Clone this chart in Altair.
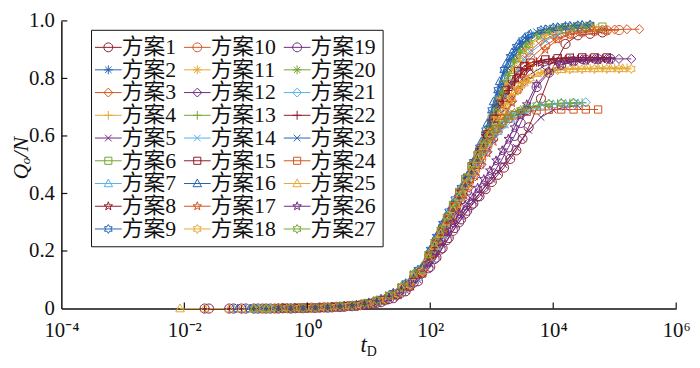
import math
import altair as alt
import pandas as pd

_ = None

# log10(t_D) sampling grids (three staggered grids)
LOGT_A = [-2.0, -1.6, -1.2, -1.0, -0.8, -0.6, -0.4, -0.2, 0.0, 0.2, 0.4, 0.6, 0.8,
          1.0, 1.2, 1.4, 1.6, 1.8,
          2.0, 2.1, 2.2, 2.3, 2.4, 2.5, 2.6, 2.7, 2.8, 2.9, 3.0, 3.1, 3.2, 3.3, 3.4, 3.5, 3.6,
          3.8, 4.0, 4.2, 4.4, 4.6, 4.8, 5.0, 5.2, 5.4]
LOGT_B = [-1.93, -1.53, -1.13, -0.93, -0.73, -0.53, -0.33, -0.13, 0.07, 0.27, 0.47, 0.67, 0.87,
          1.07, 1.27, 1.47, 1.67, 1.87,
          2.03, 2.13, 2.23, 2.33, 2.43, 2.53, 2.63, 2.73, 2.83, 2.93, 3.03, 3.13, 3.23, 3.33, 3.43,
          3.53, 3.63,
          3.87, 4.07, 4.27, 4.47, 4.67, 4.87, 5.07, 5.27, 5.47]
LOGT_C = [-2.07, -1.67, -1.27, -1.07, -0.87, -0.67, -0.47, -0.27, -0.07, 0.13, 0.33, 0.53, 0.73,
          0.93, 1.13, 1.33, 1.53, 1.73,
          1.97, 2.07, 2.17, 2.27, 2.37, 2.47, 2.57, 2.67, 2.77, 2.87, 2.97, 3.07, 3.17, 3.27, 3.37,
          3.47, 3.57,
          3.73, 3.93, 4.13, 4.33, 4.53, 4.73, 4.93, 5.13, 5.33]

# Q_o/N values per scheme (segments: early | 10..60 | rise | plateau)
S01 = [_, 0, 0, 0, 0, 0, 0.001, 0.001, 0.002, 0.003, 0.004, 0.006, 0.009] + [0.014, 0.022, 0.036, 0.06, 0.095] + [0.145, 0.177, 0.21, 0.245, 0.28, 0.31, 0.34, 0.365, 0.39, 0.415, 0.44, 0.465, 0.49, 0.52, 0.55, 0.59, 0.63] + [0.73, 0.84, 0.92, 0.95, 0.955, 0.96, _, _, _]
S02 = [_, _, _, _, 0, 0, 0.001, 0.002, 0.003, 0.004, 0.006, 0.009, 0.013] + [0.02, 0.032, 0.052, 0.085, 0.13] + [0.2, 0.245, 0.29, 0.33, 0.37, 0.41, 0.45, 0.5, 0.55, 0.61, 0.68, 0.75, 0.82, 0.865, 0.9, 0.922, 0.94] + [0.96, 0.972, 0.978, 0.982, 0.985, _, _, _, _]
S03 = [_, _, _, _, _, _, 0.001, 0.001, 0.002, 0.003, 0.005, 0.008, 0.011] + [0.017, 0.027, 0.044, 0.072, 0.115] + [0.18, 0.22, 0.26, 0.30, 0.34, 0.385, 0.43, 0.475, 0.52, 0.57, 0.62, 0.675, 0.73, 0.78, 0.83, 0.865, 0.89] + [0.93, 0.95, 0.96, 0.965, 0.968, 0.97, 0.97, 0.971, 0.971]
S04 = [_, _, 0, 0, 0, 0, 0.001, 0.001, 0.002, 0.003, 0.005, 0.008, 0.011] + [0.017, 0.028, 0.046, 0.075, 0.12] + [0.185, 0.228, 0.27, 0.31, 0.35, 0.395, 0.44, 0.485, 0.53, 0.575, 0.62, 0.662, 0.7, 0.732, 0.76, 0.782, 0.8] + [0.82, 0.83, 0.833, 0.835, 0.835, 0.836, 0.836, 0.836, _]
S05 = [_, _, _, _, _, _, 0, 0.001, 0.002, 0.003, 0.004, 0.006, 0.009] + [0.014, 0.023, 0.038, 0.063, 0.1] + [0.155, 0.19, 0.225, 0.258, 0.29, 0.32, 0.35, 0.375, 0.4, 0.425, 0.45, 0.475, 0.5, 0.53, 0.56, 0.59, 0.62] + [0.665, 0.69, 0.7, 0.705, _, _, _, _, _]
S06 = [_, _, _, _, 0, 0, 0.001, 0.002, 0.003, 0.004, 0.006, 0.009, 0.012] + [0.019, 0.03, 0.05, 0.08, 0.125] + [0.19, 0.235, 0.28, 0.32, 0.36, 0.405, 0.45, 0.5, 0.55, 0.605, 0.66, 0.72, 0.78, 0.83, 0.87, 0.9, 0.92] + [0.95, 0.965, 0.972, 0.976, 0.978, 0.98, _, _, _]
S07 = [_, _, 0, 0, 0, 0, 0.001, 0.001, 0.002, 0.003, 0.005, 0.007, 0.01] + [0.016, 0.026, 0.043, 0.07, 0.11] + [0.175, 0.218, 0.26, 0.305, 0.35, 0.395, 0.44, 0.48, 0.52, 0.556, 0.59, 0.617, 0.64, 0.66, 0.675, 0.686, 0.695] + [0.705, 0.71, 0.712, 0.713, _, _, _, _, _]
S08 = [_, _, _, _, _, _, 0.001, 0.001, 0.002, 0.003, 0.005, 0.008, 0.011] + [0.018, 0.029, 0.048, 0.078, 0.125] + [0.19, 0.235, 0.28, 0.32, 0.36, 0.405, 0.45, 0.5, 0.55, 0.6, 0.65, 0.7, 0.74, 0.773, 0.8, 0.822, 0.84] + [0.855, 0.862, 0.865, 0.866, 0.867, 0.867, _, _, _]
S09 = [_, _, _, _, _, _, 0.001, 0.002, 0.003, 0.004, 0.006, 0.009, 0.013] + [0.021, 0.034, 0.055, 0.088, 0.135] + [0.205, 0.25, 0.295, 0.338, 0.38, 0.42, 0.46, 0.51, 0.56, 0.62, 0.69, 0.76, 0.83, 0.875, 0.91, 0.933, 0.95] + [0.968, 0.977, 0.982, 0.985, 0.987, _, _, _, _]
S10 = [_, _, _, _, 0, 0, 0.001, 0.002, 0.003, 0.004, 0.006, 0.009, 0.013] + [0.02, 0.032, 0.052, 0.083, 0.13] + [0.2, 0.243, 0.285, 0.322, 0.36, 0.4, 0.44, 0.48, 0.52, 0.565, 0.61, 0.66, 0.71, 0.755, 0.8, 0.838, 0.87] + [0.915, 0.94, 0.955, 0.962, 0.965, 0.967, 0.968, _, _]
S11 = [_, _, _, _, _, _, 0.001, 0.002, 0.003, 0.004, 0.006, 0.009, 0.013] + [0.021, 0.033, 0.054, 0.087, 0.135] + [0.205, 0.248, 0.29, 0.33, 0.37, 0.415, 0.46, 0.51, 0.56, 0.615, 0.67, 0.725, 0.78, 0.83, 0.87, 0.9, 0.92] + [0.95, 0.965, 0.972, 0.976, 0.978, _, _, _, _]
S12 = [_, _, _, _, 0, 0, 0.001, 0.001, 0.002, 0.003, 0.005, 0.008, 0.011] + [0.018, 0.028, 0.046, 0.075, 0.12] + [0.185, 0.225, 0.265, 0.302, 0.34, 0.38, 0.42, 0.46, 0.5, 0.545, 0.59, 0.635, 0.68, 0.722, 0.76, 0.79, 0.815] + [0.845, 0.858, 0.864, 0.866, 0.867, 0.868, 0.868, 0.868, _]
S13 = [_, _, _, _, _, _, 0.001, 0.001, 0.002, 0.003, 0.005, 0.008, 0.012] + [0.019, 0.03, 0.049, 0.08, 0.125] + [0.195, 0.238, 0.28, 0.325, 0.37, 0.415, 0.46, 0.5, 0.54, 0.578, 0.61, 0.635, 0.655, 0.672, 0.685, 0.694, 0.7] + [0.708, 0.712, 0.714, 0.715, _, _, _, _, _]
S14 = [_, _, _, _, 0, 0, 0.001, 0.002, 0.003, 0.004, 0.006, 0.009, 0.013] + [0.02, 0.032, 0.052, 0.085, 0.13] + [0.2, 0.245, 0.29, 0.33, 0.37, 0.41, 0.45, 0.495, 0.54, 0.59, 0.64, 0.69, 0.74, 0.79, 0.83, 0.865, 0.89] + [0.93, 0.952, 0.963, 0.968, _, _, _, _, _]
S15 = [_, _, _, _, _, _, 0.001, 0.001, 0.002, 0.003, 0.005, 0.008, 0.011] + [0.018, 0.029, 0.047, 0.077, 0.122] + [0.19, 0.232, 0.275, 0.318, 0.36, 0.405, 0.45, 0.5, 0.55, 0.605, 0.66, 0.712, 0.76, 0.797, 0.825, 0.843, 0.855] + [0.866, 0.87, 0.872, 0.873, 0.873, 0.873, _, _, _]
S16 = [_, _, 0, 0, 0, 0, 0.001, 0.002, 0.003, 0.004, 0.006, 0.01, 0.014] + [0.022, 0.035, 0.057, 0.09, 0.14] + [0.215, 0.26, 0.305, 0.345, 0.385, 0.425, 0.47, 0.52, 0.58, 0.645, 0.72, 0.79, 0.85, 0.89, 0.92, 0.94, 0.955] + [0.97, 0.978, 0.983, 0.986, _, _, _, _, _]
S17 = [_, _, _, _, _, _, 0.001, 0.002, 0.003, 0.004, 0.006, 0.009, 0.012] + [0.019, 0.03, 0.049, 0.079, 0.125] + [0.19, 0.23, 0.27, 0.308, 0.345, 0.382, 0.42, 0.46, 0.5, 0.54, 0.58, 0.625, 0.67, 0.715, 0.76, 0.8, 0.84] + [0.9, 0.935, 0.952, 0.96, 0.964, 0.966, _, _, _]
S18 = [_, _, _, _, 0, 0, 0.001, 0.002, 0.003, 0.004, 0.006, 0.009, 0.012] + [0.019, 0.031, 0.05, 0.081, 0.128] + [0.195, 0.238, 0.28, 0.32, 0.36, 0.4, 0.44, 0.485, 0.53, 0.575, 0.62, 0.662, 0.7, 0.732, 0.76, 0.782, 0.8] + [0.82, 0.828, 0.831, 0.832, 0.833, 0.833, 0.833, 0.833, _]
S19 = [_, 0, 0, 0, 0, 0, 0, 0, 0.001, 0.002, 0.003, 0.005, 0.008] + [0.012, 0.02, 0.033, 0.055, 0.09] + [0.14, 0.172, 0.205, 0.238, 0.27, 0.3, 0.33, 0.36, 0.39, 0.42, 0.45, 0.485, 0.52, 0.56, 0.6, 0.645, 0.69] + [0.77, 0.82, 0.848, 0.86, 0.865, 0.867, 0.868, _, _]
S20 = [_, _, _, _, 0, 0, 0.001, 0.001, 0.002, 0.003, 0.005, 0.007, 0.01] + [0.016, 0.026, 0.043, 0.07, 0.112] + [0.175, 0.215, 0.255, 0.298, 0.34, 0.385, 0.43, 0.475, 0.52, 0.575, 0.63, 0.69, 0.75, 0.81, 0.86, 0.895, 0.92] + [0.952, 0.968, 0.976, 0.98, 0.982, _, _, _, _]
S21 = [_, _, _, _, 0, 0, 0.001, 0.001, 0.002, 0.003, 0.004, 0.007, 0.01] + [0.016, 0.025, 0.041, 0.067, 0.107] + [0.168, 0.208, 0.25, 0.295, 0.34, 0.385, 0.43, 0.47, 0.51, 0.547, 0.58, 0.61, 0.635, 0.655, 0.67, 0.682, 0.692] + [0.704, 0.71, 0.714, 0.716, 0.717, _, _, _, _]
S22 = [_, 0, 0, 0, 0, 0, 0.001, 0.001, 0.002, 0.003, 0.004, 0.007, 0.01] + [0.016, 0.026, 0.042, 0.069, 0.11] + [0.172, 0.212, 0.255, 0.298, 0.34, 0.385, 0.43, 0.475, 0.52, 0.57, 0.62, 0.672, 0.72, 0.758, 0.79, 0.815, 0.835] + [0.857, 0.866, 0.87, 0.871, 0.872, 0.872, 0.872, _, _]
S23 = [_, _, _, _, 0, 0, 0.001, 0.001, 0.002, 0.003, 0.005, 0.008, 0.011] + [0.018, 0.029, 0.047, 0.076, 0.12] + [0.185, 0.228, 0.27, 0.31, 0.35, 0.39, 0.43, 0.472, 0.52, 0.575, 0.64, 0.71, 0.78, 0.835, 0.88, 0.912, 0.935] + [0.962, 0.975, 0.981, 0.985, 0.987, _, _, _, _]
S24 = [_, _, _, _, _, _, 0.001, 0.001, 0.002, 0.003, 0.005, 0.007, 0.01] + [0.017, 0.027, 0.044, 0.072, 0.115] + [0.18, 0.222, 0.265, 0.31, 0.355, 0.402, 0.45, 0.495, 0.535, 0.57, 0.6, 0.625, 0.645, 0.66, 0.672, 0.679, 0.684] + [0.689, 0.691, 0.692, 0.692, 0.692, 0.692, _, _, _]
S25 = [0, 0, 0, 0, 0, 0, 0.001, 0.001, 0.002, 0.003, 0.005, 0.007, 0.01] + [0.016, 0.026, 0.043, 0.07, 0.112] + [0.175, 0.218, 0.26, 0.302, 0.345, 0.388, 0.43, 0.475, 0.52, 0.565, 0.61, 0.652, 0.69, 0.725, 0.755, 0.778, 0.795] + [0.818, 0.828, 0.832, 0.834, 0.835, 0.835, 0.835, 0.835, _]
S26 = [_, _, _, _, _, _, 0.001, 0.001, 0.002, 0.003, 0.004, 0.006, 0.009] + [0.014, 0.023, 0.038, 0.063, 0.1] + [0.158, 0.195, 0.23, 0.265, 0.3, 0.33, 0.36, 0.39, 0.42, 0.45, 0.48, 0.515, 0.55, 0.59, 0.63, 0.67, 0.71] + [0.78, 0.825, 0.848, 0.858, 0.862, 0.864, 0.865, _, _]
S27 = [_, _, _, _, 0, 0, 0.001, 0.001, 0.002, 0.003, 0.005, 0.008, 0.011] + [0.018, 0.029, 0.047, 0.077, 0.122] + [0.19, 0.232, 0.275, 0.32, 0.365, 0.41, 0.455, 0.497, 0.535, 0.57, 0.6, 0.626, 0.648, 0.666, 0.68, 0.69, 0.698] + [0.707, 0.712, 0.714, 0.715, _, _, _, _, _]

SERIES = [S01, S02, S03, S04, S05, S06, S07, S08, S09, S10, S11, S12, S13, S14,
          S15, S16, S17, S18, S19, S20, S21, S22, S23, S24, S25, S26, S27]
GRIDS = [LOGT_A] * 9 + [LOGT_B] * 9 + [LOGT_C] * 9
NAMES = [f"方案{i}" for i in range(1, 28)]

X_TICKS = [1e-2, 1, 1e2, 1e4, 1e6]
X_LABEL_VALUES = [1e-4, 1e-2, 1, 1e2, 1e4, 1e6]
Y_TICKS = [0.2, 0.4, 0.6, 0.8, 1.0]
Y_LABEL_VALUES = [0, 0.2, 0.4, 0.6, 0.8, 1.0]

# ---- styling ----
W, H = 622, 291
TOP = 11
CYCLE = ["#8E1A26", "#2462B4", "#D4541C", "#E6A836", "#6E2A80", "#74A532", "#58B0EC"]
COLORS = [CYCLE[i % 7] for i in range(27)]


def circle_pts(n=20):
    return [(math.cos(2 * math.pi * k / n), math.sin(2 * math.pi * k / n)) for k in range(n)]


def star_pts(npts, r_in):
    pts = []
    for k in range(2 * npts):
        ang = -math.pi / 2 + k * math.pi / npts
        r = 1.0 if k % 2 == 0 else r_in
        pts.append((r * math.cos(ang), r * math.sin(ang)))
    return pts


MARKERS = [
    [(circle_pts(), True)],
    [([(-1, 0), (1, 0)], False), ([(0, -1), (0, 1)], False),
     ([(-0.72, -0.72), (0.72, 0.72)], False), ([(-0.72, 0.72), (0.72, -0.72)], False)],
    [([(0, -1), (1, 0), (0, 1), (-1, 0)], True)],
    [([(-1, 0), (1, 0)], False), ([(0, -1), (0, 1)], False)],
    [([(-0.75, -0.75), (0.75, 0.75)], False), ([(-0.75, 0.75), (0.75, -0.75)], False)],
    [([(-0.8, -0.8), (0.8, -0.8), (0.8, 0.8), (-0.8, 0.8)], True)],
    [([(0, -1), (0.95, 0.72), (-0.95, 0.72)], True)],
    [(star_pts(5, 0.4), True)],
    [(star_pts(6, 0.577), True)],
]


def to_path(polys, k=1.0):
    out = []
    for pts, closed in polys:
        seg = "M" + "L".join(f"{x * k:.3f},{y * k:.3f}" for x, y in pts)
        if closed:
            seg += "Z"
        out.append(seg)
    return "".join(out)


# legend symbol box is 22 px; marker ~9 px wide, line ~27 px long
LEG_SYM = 22
PATHS = [to_path(MARKERS[i % 9]) for i in range(27)]
LEG_PATHS = [to_path(MARKERS[i % 9], 9 / LEG_SYM) + f"M{-27 / LEG_SYM:.3f},0L{27 / LEG_SYM:.3f},0"
             for i in range(27)]

rows = []
for name, vals, grid in zip(NAMES, SERIES, GRIDS):
    assert len(vals) == len(grid), name
    for lt, q in zip(grid, vals):
        if q is not None:
            rows.append({"series": name, "t": 10 ** lt, "q": q})
df = pd.DataFrame(rows)

SERIF = "Liberation Serif"
INK = "#111111"
x_scale = alt.Scale(type="log", domain=[1e-4, 1e6], nice=False)
y_scale = alt.Scale(domain=[0, 1], nice=False, zero=False)
x_axis = alt.Axis(values=X_LABEL_VALUES, ticks=False, grid=False, title=None,
                  labelExpr=("datum.value < 0.001 ? '10⁻⁴' : datum.value < 0.1 ? '10⁻²' : "
                             "datum.value < 10 ? '10⁰' : datum.value < 1000 ? '10²' : "
                             "datum.value < 100000 ? '10⁴' : '10⁶'"),
                  labelFont=SERIF, labelFontSize=21, labelColor=INK, labelPadding=11,
                  domainColor=INK, domainWidth=1.5, labelFlush=False, labelOverlap=False)
y_axis = alt.Axis(values=Y_LABEL_VALUES, ticks=False, grid=False, title=None,
                  labelExpr="datum.value == 0 ? '0' : format(datum.value, '.1f')",
                  labelFont=SERIF, labelFontSize=21, labelColor=INK, labelPadding=7,
                  domainColor=INK, domainWidth=1.5, labelFlush=False, labelOverlap=False)

X = alt.X("t:Q", scale=x_scale, axis=x_axis)
Y = alt.Y("q:Q", scale=y_scale, axis=y_axis)

lines = alt.Chart(df).mark_line(strokeWidth=1).encode(
    x=X, y=Y,
    color=alt.Color("series:N", scale=alt.Scale(domain=NAMES, range=COLORS), legend=None),
)
points = alt.Chart(df).mark_point(filled=False, size=85, strokeWidth=1, opacity=1).encode(
    x=X, y=Y,
    color=alt.Color("series:N", scale=alt.Scale(domain=NAMES, range=COLORS), legend=None),
    shape=alt.Shape("series:N", scale=alt.Scale(domain=NAMES, range=PATHS), legend=None),
)

LEG = alt.Legend(title=None, orient="none", legendX=30, legendY=9, columns=3,
                 labelFont=f"{SERIF}, Noto Sans CJK SC", labelFontSize=22, labelColor=INK,
                 symbolSize=LEG_SYM * LEG_SYM, symbolStrokeWidth=1, padding=6, strokeColor=INK,
                 fillColor="white", columnPadding=5, rowPadding=0, labelOffset=2,
                 symbolLimit=40, labelLimit=200)
legend_layer = alt.Chart(df).transform_filter("false").mark_point(
    filled=False, size=LEG_SYM * LEG_SYM, strokeWidth=1, opacity=1).encode(
    x=X, y=Y,
    color=alt.Color("series:N", scale=alt.Scale(domain=NAMES, range=COLORS), legend=LEG),
    shape=alt.Shape("series:N", scale=alt.Scale(domain=NAMES, range=LEG_PATHS), legend=LEG),
)

xticks = alt.Chart(alt.Data(values=[{"t": v} for v in X_TICKS])).mark_rule(
    color=INK, strokeWidth=1.2).encode(x=alt.X("t:Q", scale=x_scale, axis=x_axis),
                                     y=alt.value(H), y2=alt.value(H - 6))
yticks = alt.Chart(alt.Data(values=[{"q": v} for v in Y_TICKS])).mark_rule(
    color=INK, strokeWidth=1.2).encode(y=alt.Y("q:Q", scale=y_scale, axis=y_axis),
                                     x=alt.value(0), x2=alt.value(6))

one = alt.Data(values=[{"a": 1}])
ytitle = alt.Chart(one).mark_text(text="Qₒ/N", font=SERIF, fontStyle="italic", fontSize=22,
                                  angle=270, align="center", baseline="alphabetic",
                                  color=INK).encode(x=alt.value(-34), y=alt.value(139))
xtitle_t = alt.Chart(one).mark_text(text="t", font=SERIF, fontStyle="italic", fontSize=23,
                                    align="right", baseline="alphabetic",
                                    color=INK).encode(x=alt.value(309), y=alt.value(335))
xtitle_d = alt.Chart(one).mark_text(text="D", font=SERIF, fontSize=14, align="left",
                                    baseline="alphabetic",
                                    color=INK).encode(x=alt.value(309), y=alt.value(339))

chart = alt.layer(lines, points, legend_layer, xticks, yticks, ytitle, xtitle_t, xtitle_d).resolve_scale(
    color="independent", shape="independent"
).properties(
    width=W, height=H,
    padding={"left": 54, "top": TOP, "right": 16, "bottom": 50},
    autosize=alt.AutoSizeParams(type="none"),
).configure_view(stroke=None)

chart.save("out.html", embed_options={"renderer": "svg", "actions": False})
